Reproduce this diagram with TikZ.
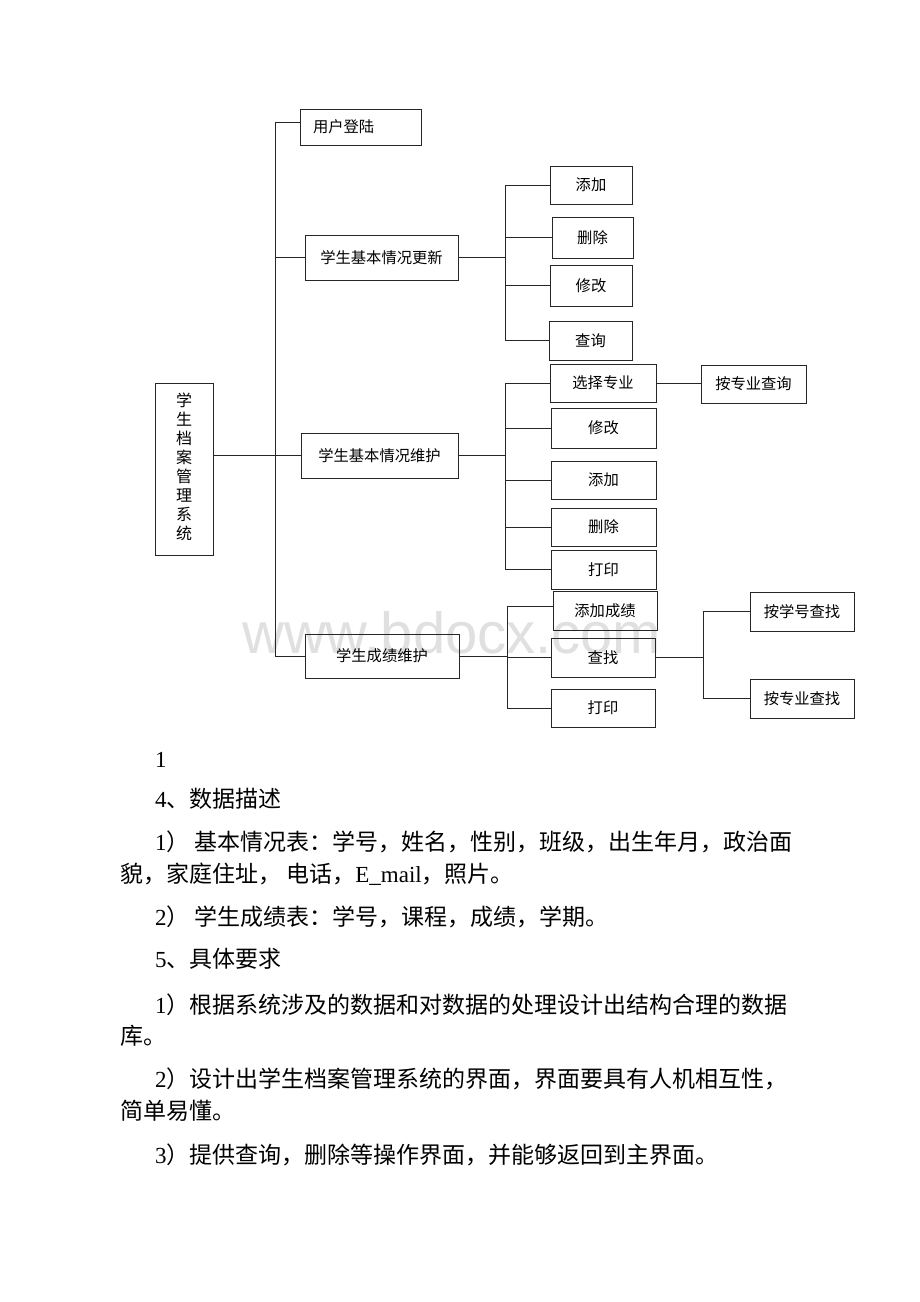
\documentclass[tikz,border=0pt]{standalone}
\usepackage{fontspec}
\setmainfont{Liberation Serif}
\newfontfamily\cjk{Noto Sans CJK SC}
\newfontfamily\wmfont{Liberation Sans}
\begin{document}
\begin{tikzpicture}[x=1pt,y=-1pt,
  box/.style={draw=black!85, line width=1pt, rectangle, inner sep=0pt, font=\cjk\fontsize{15.3}{18.6}\selectfont},
  conn/.style={draw=black!85, line width=0.9pt},
  para/.style={anchor=base west, inner sep=0pt, font=\cjk\fontsize{23}{28}\selectfont}]
\useasboundingbox (0,0) rectangle (920,1302);
\fill[white] (0,0) rectangle (920,1302);
% watermark
\node[anchor=base west, inner sep=0pt, font=\wmfont\fontsize{58}{62}\selectfont, text=black!12] (wm) at (242,653) {www.bdocx.com};
% boxes
\node[box, minimum width=121pt, minimum height=36pt, text width=95pt, align=left] (login) at (360.5,127) {用户登陆};
\node[box, minimum width=153pt, minimum height=45pt] (upd) at (381.5,257.5) {学生基本情况更新};
\node[box, minimum width=157pt, minimum height=45pt] (mnt) at (379.5,455.5) {学生基本情况维护};
\node[box, minimum width=154pt, minimum height=44pt] (grd) at (382,656) {学生成绩维护};
\node[box, minimum width=58pt, minimum height=172pt, font=\cjk\fontsize{16}{18.8}\selectfont] (main) at (184,469) {\raisebox{9pt}{\begin{tabular}{@{}c@{}}学\\生\\档\\案\\管\\理\\系\\统\end{tabular}}};
% update children
\node[box, minimum width=82pt, minimum height=38pt] (u1) at (591,185) {添加};
\node[box, minimum width=81pt, minimum height=41pt] (u2) at (592.5,237.5) {删除};
\node[box, minimum width=82pt, minimum height=41pt] (u3) at (591,285.5) {修改};
\node[box, minimum width=83pt, minimum height=39pt] (u4) at (590.5,340.5) {查询};
% maintain children
\node[box, minimum width=106pt, minimum height=38pt] (m1) at (603,383) {选择专业};
\node[box, minimum width=105pt, minimum height=38pt] (mq) at (753.5,384) {按专业查询};
\node[box, minimum width=105pt, minimum height=40pt] (m2) at (603.5,428) {修改};
\node[box, minimum width=105pt, minimum height=38pt] (m3) at (603.5,480) {添加};
\node[box, minimum width=105pt, minimum height=38pt] (m4) at (603.5,527) {删除};
\node[box, minimum width=105pt, minimum height=39pt] (m5) at (603.5,569.5) {打印};
% grade children
\node[box, minimum width=104pt, minimum height=39pt] (g1) at (605,610.5) {添加成绩};
\node[box, minimum width=104pt, minimum height=39pt] (g2) at (603,657.5) {查找};
\node[box, minimum width=104pt, minimum height=38pt] (g3) at (603,708) {打印};
\node[box, minimum width=104pt, minimum height=39pt] (s1) at (802,611.5) {按学号查找};
\node[box, minimum width=104pt, minimum height=39pt] (s2) at (802,698.5) {按专业查找};
% connectors
\coordinate (tr) at (275,0);
\coordinate (ub) at (505,0);
\coordinate (mb) at (505,0);
\coordinate (gb) at (507,0);
\coordinate (sb) at (703,0);
\draw[conn] ([yshift=5pt]login.west) -| (tr |- grd.west) -- (grd.west);
\draw[conn] (upd.west) -- (upd.west -| tr);
\draw[conn] (main.east |- mnt.west) -- (mnt.west);
\draw[conn] (upd.east) -- (upd.east -| ub);
\draw[conn] (u1.west -| ub) -- (u4.west -| ub);
\foreach \n in {u1,u2,u3,u4} \draw[conn] (\n.west -| ub) -- (\n.west);
\draw[conn] (mnt.east) -- (mnt.east -| mb);
\draw[conn] (m1.west -| mb) -- (m5.west -| mb);
\foreach \n in {m1,m2,m3,m4,m5} \draw[conn] (\n.west -| mb) -- (\n.west);
\draw[conn] (m1.east) -- (m1.east -| mq.west);
\draw[conn] (grd.east) -- (grd.east -| gb);
\draw[conn] ([yshift=4pt]g1.west -| gb) -- (g3.west -| gb);
\draw[conn] ([yshift=4pt]g1.west -| gb) -- ([yshift=4pt]g1.west);
\foreach \n in {g2,g3} \draw[conn] (\n.west -| gb) -- (\n.west);
\draw[conn] (g2.east) -- (g2.east -| sb);
\draw[conn] (s1.west -| sb) -- (s2.west -| sb);
\foreach \n in {s1,s2} \draw[conn] (\n.west -| sb) -- (\n.west);
% text below
\node[para] (t0) at (155,767) {\rmfamily 1};
\node[para] (t1) at (155,807) {{\rmfamily 4}、数据描述};
\node[para] (t2) at (155,850) {{\rmfamily 1}） 基本情况表：学号，姓名，性别，班级，出生年月，政治面};
\node[para] (t3) at (120,882) {貌，家庭住址， 电话，{\rmfamily E\_mail}，照片。};
\node[para] (t4) at (155,925) {{\rmfamily 2}） 学生成绩表：学号，课程，成绩，学期。};
\node[para] (t5) at (155,967) {{\rmfamily 5}、具体要求};
\node[para] (t6) at (155,1013) {{\rmfamily 1}）根据系统涉及的数据和对数据的处理设计出结构合理的数据};
\node[para] (t7) at (120,1044) {库。};
\node[para] (t8) at (155,1087) {{\rmfamily 2}）设计出学生档案管理系统的界面，界面要具有人机相互性，};
\node[para] (t9) at (120,1119) {简单易懂。};
\node[para] (t10) at (155,1163) {{\rmfamily 3}）提供查询，删除等操作界面，并能够返回到主界面。};
\end{tikzpicture}
\end{document}
